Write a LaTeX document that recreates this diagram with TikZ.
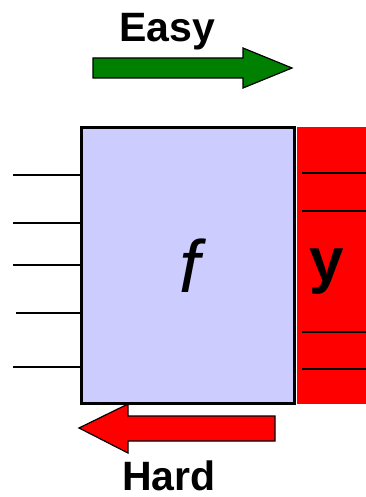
\documentclass[tikz,border=0pt]{standalone}
\usepackage{fontspec}
\setmainfont{Liberation Sans}
\definecolor{boxfill}{HTML}{CCCCFF}
\definecolor{arrgreen}{HTML}{008000}
\definecolor{arrred}{HTML}{FF0000}
\begin{document}
\begin{tikzpicture}[x=1pt,y=-1pt,
  wire/.style={line width=1.3pt,black},
  bigarrow/.style={draw=black,line width=1.2pt,line join=miter},
  lbl/.style={inner sep=0pt,anchor=base,font=\fontsize{41}{46}\selectfont\bfseries}]
\useasboundingbox (0,0) rectangle (365,497);
% function box
\node[draw=black,line width=3pt,fill=boxfill,minimum width=213pt,minimum height=276pt,inner sep=0pt,anchor=north west] (f) at (80,126) {};
\node[inner sep=0pt,anchor=base,font=\fontsize{74}{80}\selectfont\itshape] (flab) at (190,292) {f};
% output register
\fill[arrred] (297,127) rectangle (366,404);
\node[inner sep=0pt,minimum width=69pt,minimum height=277pt,anchor=north west] (y) at (297,127) {};
\draw[line width=1pt,black!70] (y.north west) -- (y.south west);
\node[inner sep=0pt,anchor=base,font=\fontsize{62}{68}\selectfont\bfseries] (ylab) at (327,281) {y};
\foreach \yy in {173,211,332,369}{
  \draw[wire] (302,\yy) -- (366,\yy);
}
% input wires
\foreach \yy/\xs in {175/13,223/13,265/13,313/16,367/13}{
  \coordinate (in\yy) at (\xs,\yy);
  \draw[wire] (in\yy) -- (f.west |- in\yy);
}
% easy arrow
\node[lbl] (easy) at (167,42) {Easy};
\draw[bigarrow,fill=arrgreen] (93,58) -- (243,58) -- (243,48) -- (292,68) -- (243,88) -- (243,78) -- (93,78) -- cycle;
% hard arrow
\draw[bigarrow,fill=arrred] (275,416) -- (128,416) -- (128,404) -- (79,428) -- (128,453) -- (128,441) -- (275,441) -- cycle;
\node[lbl] (hard) at (169,490) {Hard};
\end{tikzpicture}
\end{document}
